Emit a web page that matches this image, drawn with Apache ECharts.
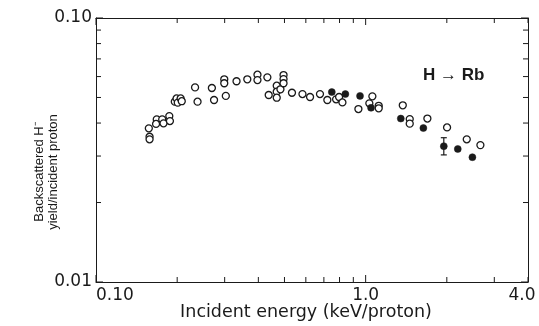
<!DOCTYPE html>
<html>
<head>
<meta charset="utf-8">
<script src="https://cdn.jsdelivr.net/npm/echarts@6/dist/echarts.min.js"></script>
<style>
html, body { margin: 0; padding: 0; background: #fff; }
#chart { width: 539px; height: 326px; }
</style>
</head>
<body>
<div id="chart"></div>
<script>
// open circles
var openX = [0.157, 0.158, 0.158, 0.168, 0.167, 0.176, 0.178, 0.187, 0.188, 0.196, 0.199, 0.201, 0.206, 0.208,
    0.233, 0.238, 0.269, 0.274, 0.299, 0.299, 0.303, 0.332, 0.364, 0.397, 0.397, 0.432, 0.437, 0.468, 0.468,
    0.468, 0.483, 0.496, 0.496, 0.496, 0.533, 0.583, 0.622, 0.677, 0.721, 0.777, 0.797, 0.820, 0.940, 1.032,
    1.059, 1.118, 1.118, 1.373, 1.457, 1.457, 1.694, 2.004, 2.371, 2.664];
var openY = [0.0382, 0.0355, 0.0347, 0.0413, 0.0397, 0.0413, 0.0399, 0.0425, 0.0407, 0.0482, 0.0496, 0.0478, 0.0496, 0.0484,
    0.0546, 0.0482, 0.0543, 0.0489, 0.0586, 0.0566, 0.0507, 0.0576, 0.0586, 0.0610, 0.0582, 0.0596, 0.0511, 0.0554, 0.0526,
    0.0499, 0.0537, 0.0608, 0.0587, 0.0566, 0.0521, 0.0515, 0.0502, 0.0515, 0.0489, 0.0492, 0.0502, 0.0479, 0.0452, 0.0475,
    0.0505, 0.0465, 0.0455, 0.0467, 0.0414, 0.0398, 0.0416, 0.0385, 0.0347, 0.0330];
// filled circles
var filledX = [0.749, 0.841, 0.953, 1.047, 1.350, 1.637, 1.949, 2.196, 2.488];
var filledY = [0.0524, 0.0515, 0.0507, 0.0457, 0.0416, 0.0383, 0.0327, 0.0319, 0.0297];
// error bar
var errX = [1.949];
var errLow = [0.0303];
var errHigh = [0.0352];

var xTicks = [0.1, 0.2, 0.3, 0.4, 0.5, 0.6, 0.7, 0.8, 0.9, 1, 2, 3, 4];
var xLabels = [0.1, 1, 4];
var yTicks = [0.01, 0.02, 0.03, 0.04, 0.05, 0.06, 0.07, 0.08, 0.09, 0.1];
var yLabels = [0.01, 0.1];

var X_MIN = 0.1, X_MAX = 4, Y_MIN = 0.01, Y_MAX = 0.1;

function pairs(xs, ys) {
    var out = [];
    for (var i = 0; i < xs.length; i++) out.push([xs[i], ys[i]]);
    return out;
}

var errData = [];
for (var i = 0; i < errX.length; i++) errData.push([errX[i], errLow[i], errHigh[i]]);

// tick marks drawn through the axis scale (inside, on all four sides)
var xTickData = xTicks.map(function (v) { return [v, Y_MIN]; });
var yTickData = yTicks.map(function (v) { return [X_MIN, v]; });

var font = '"Liberation Sans", Arial, sans-serif';
var wide = '"DejaVu Sans", sans-serif';
var ink = '#1a1a1a';

function tickLen(v) {
    var l = Math.log10(v);
    return Math.abs(l - Math.round(l)) < 1e-6 ? 7 : 5;
}

var myChart = echarts.init(document.getElementById('chart'));

var option = {
    animation: false,
    backgroundColor: '#fff',
    textStyle: { fontFamily: font, color: ink },
    grid: { left: 96, top: 18, right: 11, bottom: 44, containLabel: false, outerBoundsMode: 'none' },
    xAxis: [
        {
            type: 'log', logBase: 10, min: X_MIN, max: X_MAX, position: 'bottom',
            name: 'Incident energy (keV/proton)',
            nameLocation: 'middle', nameGap: 21, nameMoveOverlap: false,
            nameTextStyle: { fontSize: 17.5, color: ink, fontFamily: wide, padding: [0, 12, 0, 0] },
            axisLine: { lineStyle: { color: ink, width: 1 } },
            axisTick: { show: false },
            minorTick: { show: false },
            splitLine: { show: false },
            axisLabel: {
                customValues: xLabels, fontSize: 17, color: ink, margin: 5, fontFamily: wide,
                alignMinLabel: 'left',
                formatter: function (v) {
                    var s = v < 1 ? v.toFixed(2) : v.toFixed(1);
                    return v >= X_MAX ? '{m|' + s + '}' : s;
                },
                rich: { m: { fontSize: 17, fontFamily: wide, color: ink, padding: [0, 12, 0, 0] } }
            }
        },
        {
            type: 'log', logBase: 10, min: X_MIN, max: X_MAX, position: 'top',
            axisLine: { lineStyle: { color: ink, width: 1 } },
            axisTick: { show: false },
            splitLine: { show: false },
            axisLabel: { show: false }
        }
    ],
    yAxis: [
        {
            type: 'log', logBase: 10, min: Y_MIN, max: Y_MAX, position: 'left',
            name: 'Backscattered H\u207B\nyield/incident proton',
            nameLocation: 'middle', nameGap: 36, nameRotate: 90, nameMoveOverlap: false,
            nameTextStyle: { fontSize: 13, color: ink, fontFamily: font, lineHeight: 14, padding: [0, 44, 0, 0] },
            axisLine: { lineStyle: { color: ink, width: 1 } },
            axisTick: { show: false },
            splitLine: { show: false },
            axisLabel: {
                customValues: yLabels, fontSize: 17, color: ink, margin: 4, fontFamily: wide,
                formatter: function (v) { return v.toFixed(2); }
            }
        },
        {
            type: 'log', logBase: 10, min: Y_MIN, max: Y_MAX, position: 'right',
            axisLine: { lineStyle: { color: ink, width: 1 } },
            axisTick: { show: false },
            splitLine: { show: false },
            axisLabel: { show: false }
        }
    ],
    graphic: [
        {
            type: 'text', left: 423, top: 67,
            style: { text: 'H \u2192 Rb', font: 'bold 17px ' + font, fill: ink }
        }
    ],
    series: [
        {
            type: 'custom', name: 'xticks', silent: true,
            data: xTickData,
            renderItem: function (params, api) {
                var cs = params.coordSys;
                var p = api.coord([api.value(0), api.value(1)]);
                var len = tickLen(api.value(0));
                var st = { stroke: ink, lineWidth: 1 };
                return {
                    type: 'group',
                    children: [
                        { type: 'line', shape: { x1: p[0], y1: cs.y + cs.height, x2: p[0], y2: cs.y + cs.height - len }, style: st },
                        { type: 'line', shape: { x1: p[0], y1: cs.y, x2: p[0], y2: cs.y + len }, style: st }
                    ]
                };
            }
        },
        {
            type: 'custom', name: 'yticks', silent: true,
            data: yTickData,
            renderItem: function (params, api) {
                var cs = params.coordSys;
                var p = api.coord([api.value(0), api.value(1)]);
                var len = tickLen(api.value(1));
                var st = { stroke: ink, lineWidth: 1 };
                return {
                    type: 'group',
                    children: [
                        { type: 'line', shape: { x1: cs.x, y1: p[1], x2: cs.x + len, y2: p[1] }, style: st },
                        { type: 'line', shape: { x1: cs.x + cs.width, y1: p[1], x2: cs.x + cs.width - len, y2: p[1] }, style: st }
                    ]
                };
            }
        },
        {
            type: 'scatter', name: 'open',
            data: pairs(openX, openY),
            symbol: 'circle', symbolSize: 7,
            itemStyle: { color: '#fff', borderColor: ink, borderWidth: 1.3, opacity: 1 }
        },
        {
            type: 'custom', name: 'error',
            data: errData,
            renderItem: function (params, api) {
                var x = api.value(0);
                var lo = api.coord([x, api.value(1)]);
                var hi = api.coord([x, api.value(2)]);
                var w = 3;
                var st = { stroke: ink, lineWidth: 1.2 };
                return {
                    type: 'group',
                    children: [
                        { type: 'line', shape: { x1: lo[0], y1: lo[1], x2: hi[0], y2: hi[1] }, style: st },
                        { type: 'line', shape: { x1: lo[0] - w, y1: lo[1], x2: lo[0] + w, y2: lo[1] }, style: st },
                        { type: 'line', shape: { x1: hi[0] - w, y1: hi[1], x2: hi[0] + w, y2: hi[1] }, style: st }
                    ]
                };
            }
        },
        {
            type: 'scatter', name: 'filled',
            data: pairs(filledX, filledY),
            symbol: 'circle', symbolSize: 7,
            itemStyle: { color: ink, borderColor: ink, borderWidth: 0.5, opacity: 1 }
        }
    ]
};

myChart.setOption(option);
</script>
</body>
</html>
